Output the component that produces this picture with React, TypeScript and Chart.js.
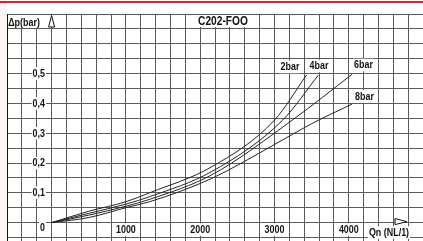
import React, { useEffect, useRef } from "react";
import { Chart, registerables } from "chart.js";

Chart.register(...registerables);

// ---- data ----
const seriesNames = ["2bar", "4bar", "6bar", "8bar"];
const qn2 = [0, 500, 1000, 1319, 2153, 3000, 3430];
const dp2 = [0, 0.038, 0.07, 0.1, 0.187, 0.344, 0.495];
const qn4 = [0, 500, 1000, 1319, 2153, 3110, 3590];
const dp4 = [0, 0.031, 0.062, 0.087, 0.171, 0.344, 0.495];
const qn6 = [0, 500, 1000, 1319, 2153, 3240, 4046];
const dp6 = [0, 0.025, 0.055, 0.078, 0.16, 0.344, 0.498];
const qn8 = [0, 500, 1000, 1319, 2153, 3000, 3500, 4046];
const dp8 = [0, 0.017, 0.05, 0.07, 0.148, 0.262, 0.332, 0.398];

const xTickLabels = [1000, 2000, 3000, 4000];
const yTickLabels = [0.1, 0.2, 0.3, 0.4, 0.5];
const titleText = "C202-FOO";
const yAxisTitle = "Δp(bar)";
const xAxisTitle = "Qn (NL/1)";

const X_MIN = -600;
const X_MAX = 5200;
const Y_MIN = -0.1;
const Y_MAX = 0.7;

function pts(xs: number[], ys: number[]) {
  return xs.map((x, i) => ({ x, y: ys[i] }));
}

const GRID = "#5a5a5a";
const INK = "#111111";
const FONT = "'Liberation Sans', Arial, sans-serif";

function drawBoxedText(
  ctx: CanvasRenderingContext2D,
  text: string,
  x: number,
  y: number,
  size: number,
  align: CanvasTextAlign,
  pad = 1,
  sx = 0.85,
  weight = "bold"
) {
  ctx.save();
  ctx.font = `${weight} ${size}px ${FONT}`;
  ctx.textBaseline = "middle";
  const w = ctx.measureText(text).width * sx;
  let left = x;
  if (align === "center") left = x - w / 2;
  else if (align === "right") left = x - w;
  if (pad >= 0) {
    ctx.fillStyle = "#ffffff";
    ctx.fillRect(left - pad, y - size * 0.5 - pad, w + pad * 2, size + pad * 2);
  }
  ctx.translate(left, y + 0.5);
  ctx.scale(sx, 1);
  ctx.textAlign = "left";
  ctx.fillStyle = INK;
  ctx.fillText(text, 0, 0);
  ctx.restore();
}

const overlay = {
  id: "overlay",
  beforeDraw(chart: any) {
    const ctx = chart.ctx as CanvasRenderingContext2D;
    ctx.save();
    ctx.fillStyle = "#fdf4f4";
    ctx.fillRect(0, 0, 7, chart.height);
    ctx.restore();
  },
  afterDraw(chart: any) {
    const ctx = chart.ctx as CanvasRenderingContext2D;
    const xs = chart.scales.x;
    const ys = chart.scales.y;
    const x0 = xs.getPixelForValue(0);
    const y0 = ys.getPixelForValue(0);

    // red rule at top
    ctx.save();
    ctx.fillStyle = "#e4202b";
    ctx.fillRect(0, 1, chart.width, 2);
    ctx.restore();

    // y-axis title + arrow
    ctx.save();
    ctx.fillStyle = "#fff";
    ctx.fillRect(8, 15, 42, 13);
    ctx.restore();
    drawBoxedText(ctx, yAxisTitle, 24, 22.5, 10.5, "center", -1, 0.85);
    ctx.save();
    ctx.strokeStyle = INK;
    ctx.lineWidth = 1;
    ctx.fillStyle = "#fff";
    ctx.beginPath();
    ctx.moveTo(x0, 15.5);
    ctx.lineTo(x0 - 3, 27);
    ctx.lineTo(x0 + 3, 27);
    ctx.closePath();
    ctx.fill();
    ctx.stroke();
    ctx.restore();

    // title
    ctx.save();
    ctx.fillStyle = "#fff";
    ctx.fillRect(194, 15, 58, 12);
    ctx.restore();
    drawBoxedText(ctx, titleText, 223, 21.5, 12, "center", -1, 0.85);

    // y tick labels
    yTickLabels.forEach((v) => {
      const label = v.toFixed(1).replace(".", ",");
      drawBoxedText(ctx, label, 45, ys.getPixelForValue(v), 10.5, "right", 1);
    });
    drawBoxedText(ctx, "0", 45, y0 + 5, 10.5, "right", 1);

    // x tick labels
    xTickLabels.forEach((v) => {
      drawBoxedText(ctx, String(v), xs.getPixelForValue(v), y0 + 7, 10.5, "center", 1);
    });

    // x-axis arrow + title
    ctx.save();
    ctx.strokeStyle = INK;
    ctx.fillStyle = "#fff";
    ctx.beginPath();
    ctx.moveTo(407, y0 - 1);
    ctx.lineTo(395, y0 - 4);
    ctx.lineTo(395, y0 + 2);
    ctx.closePath();
    ctx.fill();
    ctx.stroke();
    ctx.restore();
    drawBoxedText(ctx, xAxisTitle, 389, y0 + 10, 10.5, "center", 1);

    // curve labels
    const meta = chart.data.datasets;
    const labelPos = [
      [290, 67],
      [319, 66],
      [363.5, 65],
      [364.5, 96.5],
    ];
    meta.forEach((ds: any, i: number) => {
      drawBoxedText(ctx, ds.label, labelPos[i][0], labelPos[i][1], 10.5, "center", 1);
    });
  },
};

export default function App() {
  const ref = useRef<HTMLCanvasElement>(null);
  useEffect(() => {
    if (!ref.current) return;
    const series = [pts(qn2, dp2), pts(qn4, dp4), pts(qn6, dp6), pts(qn8, dp8)];
    const chart = new Chart(ref.current, {
      type: "line",
      data: {
        datasets: series.map((d, i) => ({
          label: seriesNames[i],
          data: d,
          borderColor: "#222",
          borderWidth: 1,
          pointRadius: 0,
          fill: false,
          cubicInterpolationMode: "monotone" as const,
        })),
      },
      options: {
        animation: false,
        responsive: false,
        maintainAspectRatio: false,
        events: [],
        layout: { padding: { left: 7, top: 14, right: 2, bottom: 7.6 } },
        plugins: { legend: { display: false }, tooltip: { enabled: false }, title: { display: false } },
        scales: {
          x: {
            type: "linear",
            min: X_MIN,
            max: X_MAX,
            ticks: { display: false, stepSize: 200 },
            grid: { color: GRID, lineWidth: 1, drawTicks: false },
            border: { display: false },
          },
          y: {
            type: "linear",
            min: Y_MIN,
            max: Y_MAX,
            ticks: { display: false, stepSize: 0.05 },
            grid: { color: GRID, lineWidth: 1, drawTicks: false },
            border: { display: true, color: INK, width: 1 },
          },
        },
      },
      plugins: [overlay],
    });
    return () => chart.destroy();
  }, []);
  return (
    <div style={{ position: "fixed", left: 0, top: 0, width: 423, height: 241, overflow: "hidden", background: "#fff" }}>
      <canvas ref={ref} width={440} height={260} style={{ display: "block", width: 440, height: 260 }} />
    </div>
  );
}
